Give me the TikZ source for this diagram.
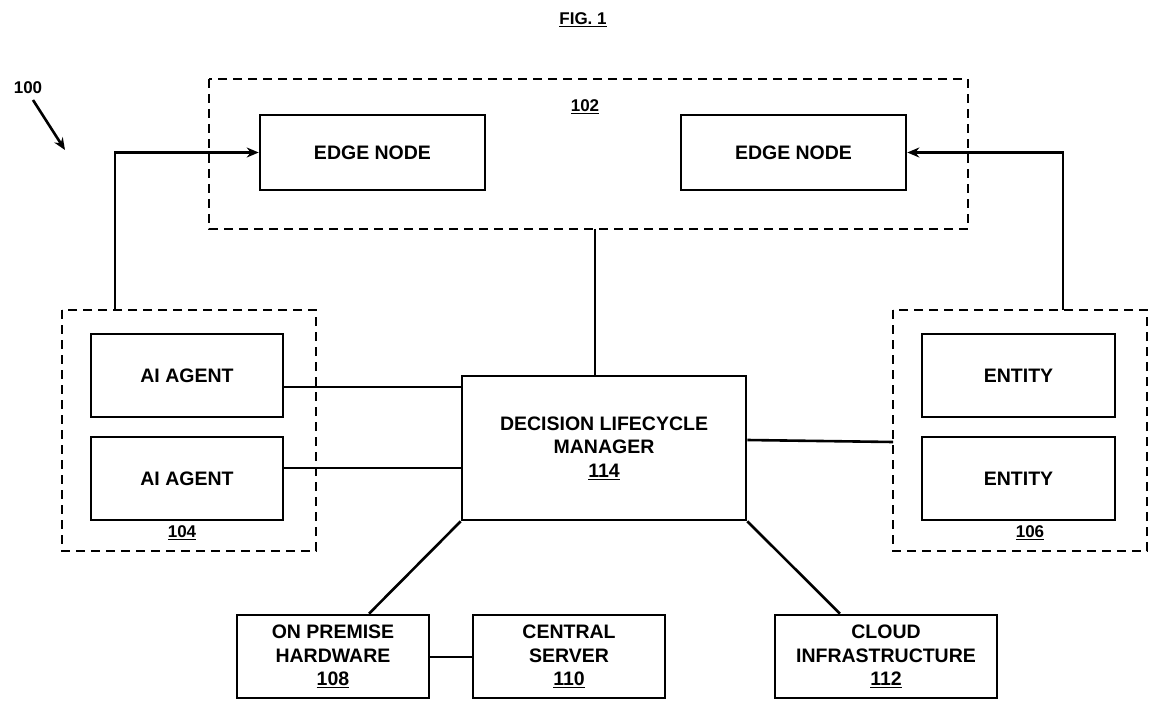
\documentclass[tikz,border=0pt]{standalone}
\usepackage{fontspec}
\setmainfont{Liberation Sans}
\usetikzlibrary{arrows.meta}
\begin{document}
\begin{tikzpicture}[x=1pt,y=-1pt,
  box/.style={draw,line width=2.6pt,inner sep=0pt},
  dbox/.style={draw,line width=2.6pt,dash pattern=on 9pt off 6pt},
  txt/.style={font=\fontsize{19.5}{23.5}\selectfont\bfseries,align=center},
  lab/.style={font=\fontsize{17}{20}\selectfont\bfseries},
  ln/.style={line width=2.6pt},
  ar/.style={line width=2.6pt,-{Stealth[length=12pt,width=10pt]}}]
\useasboundingbox (0,0) rectangle (1166,711);
\node[lab] (fig) at (583,20) {\underline{FIG. 1}};
\node[lab] (n100) at (28,88) {100};
\coordinate (a1) at (33,100); \coordinate (a2) at (65,150);
\draw[ar] (a1) -- (a2);
% group 102
\draw[dbox] (209,79) rectangle (968,229);
\node[lab] (l102) at (585,107) {\underline{102}};
\node[box,txt,minimum width=225pt,minimum height=75pt] (e1) at (372.5,152.5) {EDGE NODE};
\node[box,txt,minimum width=225pt,minimum height=75pt] (e2) at (793.5,152.5) {EDGE NODE};
\coordinate (g102b) at (595,229);
% group 104
\draw[dbox] (62,310) rectangle (316,551);
\node[lab] (l104) at (182,533) {\underline{104}};
\node[box,txt,minimum width=192pt,minimum height=83pt] (ai1) at (187,375.5) {AI AGENT};
\node[box,txt,minimum width=192pt,minimum height=83pt] (ai2) at (187,478.5) {AI AGENT};
\coordinate (g104t) at (115,310);
% group 106
\draw[dbox] (893,310) rectangle (1147,551);
\node[lab] (l106) at (1030,533) {\underline{106}};
\node[box,txt,minimum width=193pt,minimum height=83pt] (en1) at (1018.5,375.5) {ENTITY};
\node[box,txt,minimum width=193pt,minimum height=83pt] (en2) at (1018.5,478.5) {ENTITY};
\coordinate (g106t) at (1063,310);
\coordinate (g106l) at (893,442);
% DLM
\node[box,txt,minimum width=284pt,minimum height=144pt] (dlm) at (604,448) {DECISION LIFECYCLE\\MANAGER\\\underline{114}};
% bottom
\node[box,txt,minimum width=192pt,minimum height=83pt] (hw) at (333,656.5) {ON PREMISE\\HARDWARE\\\underline{108}};
\node[box,txt,minimum width=192pt,minimum height=83pt] (cs) at (569,656.5) {CENTRAL\\SERVER\\\underline{110}};
\node[box,txt,minimum width=222pt,minimum height=83pt] (ci) at (886,656.5) {CLOUD\\INFRASTRUCTURE\\\underline{112}};
% connectors
\draw[ar] (g104t) |- (e1.west);
\draw[ar] (g106t) |- (e2.east);
\draw[ln] (g102b) -- (dlm.north -| g102b);
\draw[ln] (ai1.east |- 0,387) -- (dlm.west |- 0,387);
\draw[ln] (ai2.east |- 0,468) -- (dlm.west |- 0,468);
\draw[ln] (dlm.east |- 0,440) -- (g106l);
\draw[ln] (dlm.south west) -- (hw.north -| 369,0);
\draw[ln] (dlm.south east) -- (ci.north -| 840,0);
\draw[ln] (hw.east |- 0,657) -- (cs.west |- 0,657);
\end{tikzpicture}
\end{document}
